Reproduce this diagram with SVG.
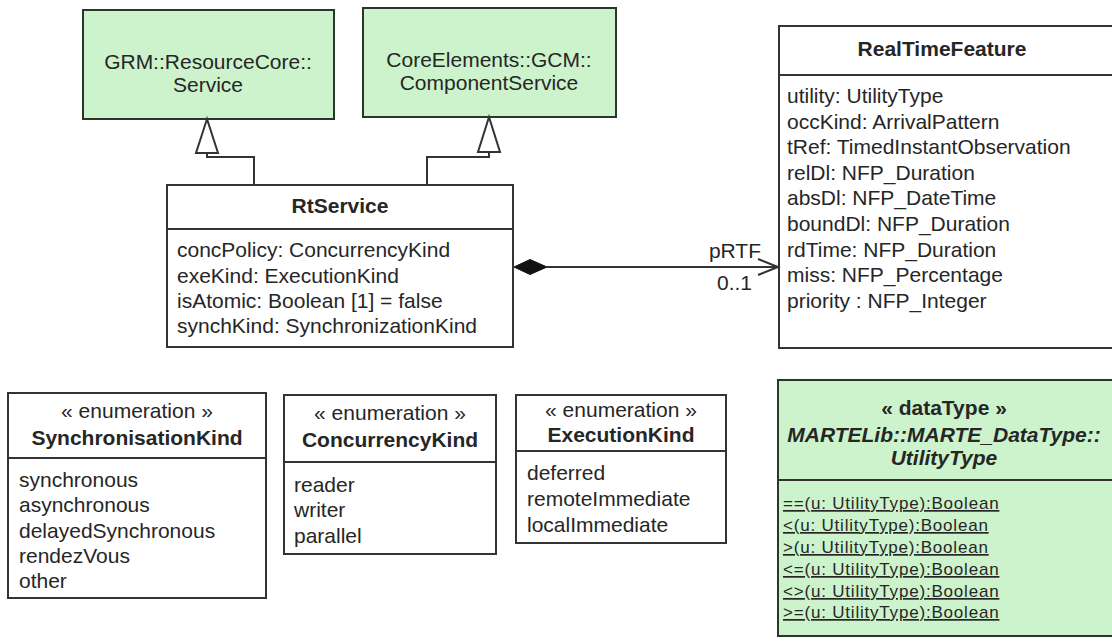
<svg xmlns="http://www.w3.org/2000/svg" width="1112" height="641" viewBox="0 0 1112 641">
<style>
text{font-family:"Liberation Sans",Arial,sans-serif;font-size:21px;fill:#262626}
.b{font-weight:bold}
.bi{font-weight:bold;font-style:italic}
.c{text-anchor:middle}
.box{fill:#fff;stroke:#333;stroke-width:2}
.green{fill:#ccf3cc;stroke:#2a362a;stroke-width:2}
.ln{fill:none;stroke:#333;stroke-width:2}
.op{font-size:17px;letter-spacing:0.8px;text-decoration:underline}
</style>
<rect width="1112" height="641" fill="#fff"/>
<g id="grm-service">
<rect class="green" x="83" y="10" width="251" height="109"/>
<text class="c" x="208" y="69">GRM::ResourceCore::</text>
<text class="c" x="208" y="92">Service</text>
</g>
<g id="component-service">
<rect class="green" x="363" y="8" width="253" height="109"/>
<text class="c" x="489" y="67">CoreElements::GCM::</text>
<text class="c" x="489" y="90">ComponentService</text>
</g>
<g id="rtservice">
<rect class="box" x="167" y="185" width="346" height="162"/>
<line class="ln" x1="167" y1="229" x2="513" y2="229"/>
<text class="c b" x="340" y="213">RtService</text>
<text x="177" y="257">concPolicy: ConcurrencyKind</text>
<text x="177" y="283">exeKind: ExecutionKind</text>
<text x="177" y="308">isAtomic: Boolean [1] = false</text>
<text x="177" y="333">synchKind: SynchronizationKind</text>
</g>
<g id="realtimefeature">
<rect class="box" x="779" y="26" width="340" height="322"/>
<line class="ln" x1="779" y1="75" x2="1119" y2="75"/>
<text class="c b" x="942" y="56">RealTimeFeature</text>
<text x="787" y="103">utility: UtilityType</text>
<text x="787" y="128.6">occKind: ArrivalPattern</text>
<text x="787" y="154.2">tRef: TimedInstantObservation</text>
<text x="787" y="179.8">relDl: NFP_Duration</text>
<text x="787" y="205.4">absDl: NFP_DateTime</text>
<text x="787" y="231">boundDl: NFP_Duration</text>
<text x="787" y="256.6">rdTime: NFP_Duration</text>
<text x="787" y="282.2">miss: NFP_Percentage</text>
<text x="787" y="307.8">priority : NFP_Integer</text>
</g>
<g id="synchronisationkind">
<rect class="box" x="8" y="393" width="258" height="205"/>
<line class="ln" x1="8" y1="458" x2="266" y2="458"/>
<text class="c" x="137" y="418">« enumeration »</text>
<text class="c b" x="137" y="445">SynchronisationKind</text>
<text x="19" y="487">synchronous</text>
<text x="19" y="512">asynchronous</text>
<text x="19" y="538">delayedSynchronous</text>
<text x="19" y="563">rendezVous</text>
<text x="19" y="588">other</text>
</g>
<g id="concurrencykind">
<rect class="box" x="284" y="395" width="212" height="159"/>
<line class="ln" x1="284" y1="462" x2="496" y2="462"/>
<text class="c" x="390" y="420">« enumeration »</text>
<text class="c b" x="390" y="447">ConcurrencyKind</text>
<text x="294" y="492">reader</text>
<text x="294" y="517">writer</text>
<text x="294" y="543">parallel</text>
</g>
<g id="executionkind">
<rect class="box" x="516" y="395" width="210" height="148"/>
<line class="ln" x1="516" y1="451" x2="726" y2="451"/>
<text class="c" x="621" y="417">« enumeration »</text>
<text class="c b" x="621" y="442">ExecutionKind</text>
<text x="527" y="480">deferred</text>
<text x="527" y="506">remoteImmediate</text>
<text x="527" y="532">localImmediate</text>
</g>
<g id="utilitytype">
<rect class="green" x="778" y="380" width="340" height="256"/>
<line class="ln" x1="778" y1="480" x2="1118" y2="480"/>
<text class="c b" x="944" y="415">« dataType »</text>
<text class="c bi" x="944" y="442">MARTELib::MARTE_DataType::</text>
<text class="c bi" x="944" y="465">UtilityType</text>
<text class="op" x="783" y="509">==(u: UtilityType):Boolean</text>
<text class="op" x="783" y="531">&lt;(u: UtilityType):Boolean</text>
<text class="op" x="783" y="553">&gt;(u: UtilityType):Boolean</text>
<text class="op" x="783" y="575">&lt;=(u: UtilityType):Boolean</text>
<text class="op" x="783" y="597">&lt;&gt;(u: UtilityType):Boolean</text>
<text class="op" x="783" y="618">&gt;=(u: UtilityType):Boolean</text>
</g>
<g id="connectors">
<polyline class="ln" points="254,185 254,157 207,157 207,153"/>
<polygon points="207,119 196,153 218,153" fill="#fff" stroke="#333" stroke-width="2"/>
<polyline class="ln" points="427,185 427,157 489,157 489,152"/>
<polygon points="489,117 478,152 500,152" fill="#fff" stroke="#333" stroke-width="2"/>
<line class="ln" x1="547" y1="267" x2="778" y2="267"/>
<polygon points="514,267 530,259.5 547,267 530,274.5" fill="#111" stroke="#111" stroke-width="1"/>
<polyline class="ln" points="758,259 778,267 758,275"/>
<text x="761" y="258" text-anchor="end">pRTF</text>
<text x="752" y="290" text-anchor="end">0..1</text>
</g>
</svg>
